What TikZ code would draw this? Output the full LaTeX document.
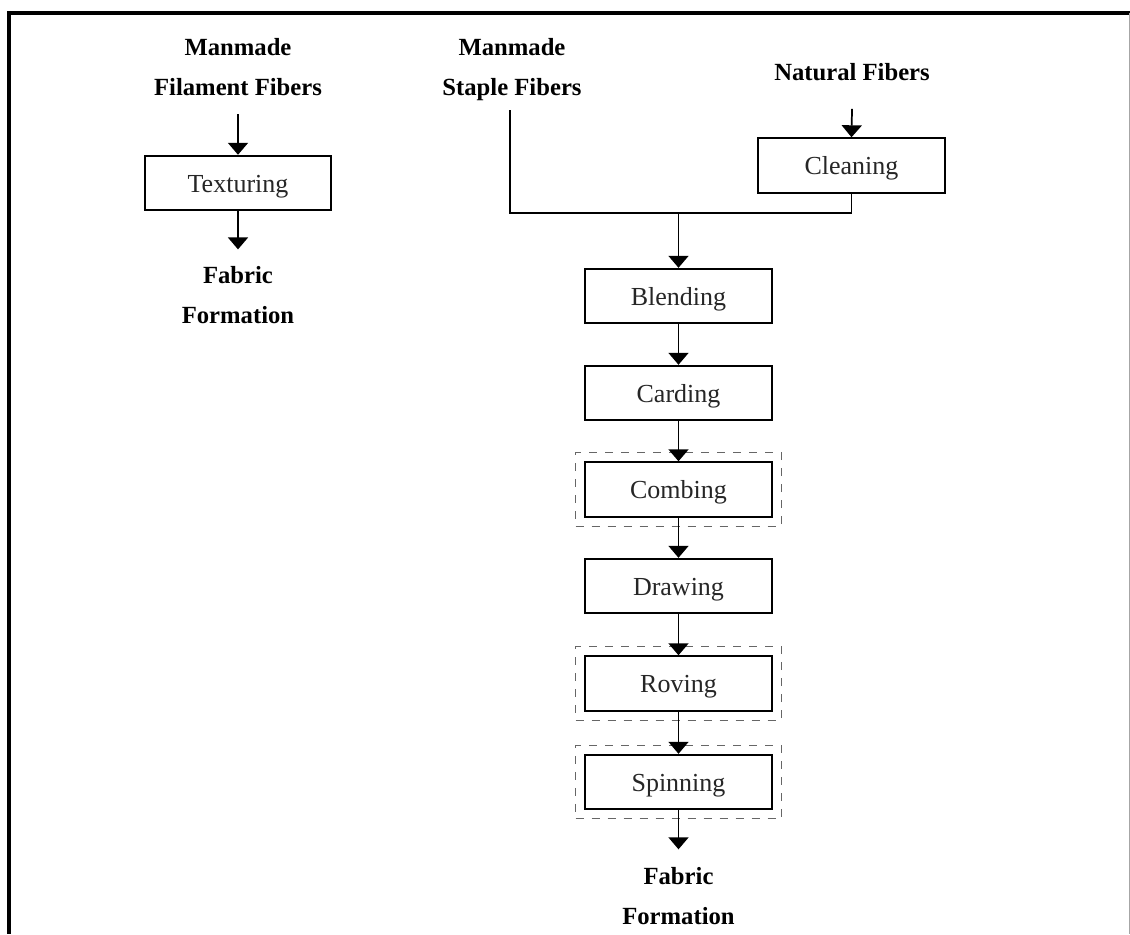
\documentclass[tikz,border=0pt]{standalone}
\usepackage{fontspec}
\setmainfont{Liberation Serif}
\usetikzlibrary{arrows.meta,fit,calc}
\begin{document}
\begin{tikzpicture}[x=0.75pt,y=-0.75pt,
  lbl/.style={font=\fontsize{18.5}{30}\selectfont\bfseries, align=center, inner sep=0pt},
  proc/.style={draw, line width=1.3pt, minimum width=140pt, minimum height=41pt, inner sep=0pt, text height=14pt, text depth=0pt, text=black!85, font=\fontsize{19.5}{22}\selectfont},
  conn/.style={line width=1.3pt},
  arr/.style={conn, -{Triangle[width=15pt,length=9pt]}},
  grp/.style={draw=black!60, dash pattern=on 6pt off 6pt, line width=0.6pt, inner sep=6.5pt},
]
\useasboundingbox (0,0) rectangle (1130,934);
% frame
\draw[line width=3pt] (8,13) -- (1130,13);
\draw[line width=3pt] (9,11) -- (9,934);
\draw[black!35, line width=0.6pt] (1129,13) -- (1129,934);

% left column
\node[lbl] (mf) at (238,67.5) {Manmade\\Filament Fibers};
\node[proc] (tex) at (238,183) {Texturing};
\node[lbl] (ff1) at (238,295) {Fabric\\Formation};

% middle and right inputs
\node[lbl] (ms) at (512,70) {Manmade\\Staple Fibers};
\node[lbl] (nf) at (852,72) {Natural Fibers};
\node[proc] (clean) at (851.5,165.5) {Cleaning};

% main chain
\node[proc] (blend) at (678.5,296) {Blending};
\node[proc] (card) at (678.5,393) {Carding};
\node[proc] (comb) at (678.5,489.5) {Combing};
\node[proc] (draw) at (678.5,586) {Drawing};
\node[proc] (rov) at (678.5,683.5) {Roving};
\node[proc] (spin) at (678.5,782) {Spinning};
\node[lbl] (ff2) at (678.5,895.6) {Fabric\\Formation};

% optional steps
\node[grp, fit=(comb)] (gcomb) {};
\node[grp, fit=(rov)] (grov) {};
\node[grp, fit=(spin)] (gspin) {};

% connectors
\draw[arr] ([yshift=-13.5pt]mf.south) -- (tex.north);
\draw[arr] (tex.south) -- ([yshift=12.5pt]ff1.north);

\coordinate (jn) at (678.5,213);
\draw[conn] ([yshift=-6.5pt]ms.south -| 510,0) |- (jn) -| (clean.south);
\draw[arr] ([yshift=-21pt]nf.south) -- (clean.north);
\draw[arr] (jn) -- (blend.north);
\draw[arr] (blend) -- (card);
\draw[arr] (card) -- (comb);
\draw[arr] (comb) -- (draw);
\draw[arr] (draw) -- (rov);
\draw[arr] (rov) -- (spin);
\draw[arr] (spin.south) -- ([yshift=13pt]ff2.north);
\end{tikzpicture}
\end{document}
